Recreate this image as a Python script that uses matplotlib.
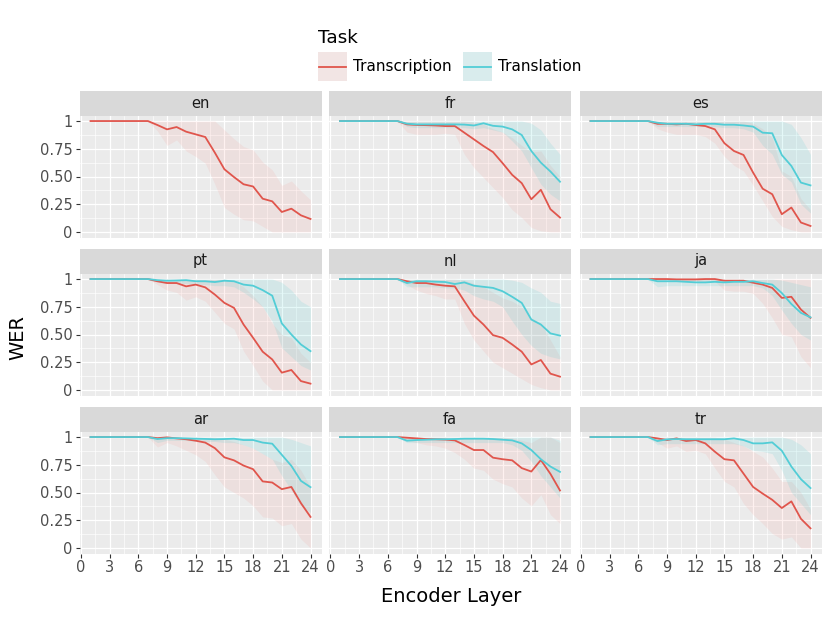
import matplotlib
matplotlib.use('Agg')
import matplotlib.pyplot as plt
from matplotlib.patches import Rectangle
from matplotlib.lines import Line2D
import numpy as np

plt.rcParams['font.family'] = ['DejaVu Sans']

layers = list(range(1, 25))
langs = ['en', 'fr', 'es', 'pt', 'nl', 'ja', 'ar', 'fa', 'tr']
tasks = ['Transcription', 'Translation']

# Transcription (mean, low, high)
en_tc = [1, 1, 1, 1, 1, 1, 1, 0.964, 0.925, 0.946, 0.904, 0.88, 0.856, 0.715, 0.565, 0.495, 0.43, 0.41, 0.30, 0.276, 0.18, 0.21, 0.15, 0.117]
en_tc_lo = [1, 1, 1, 1, 1, 1, 1, 0.91, 0.78, 0.83, 0.73, 0.68, 0.62, 0.43, 0.22, 0.16, 0.11, 0.10, 0.05, 0.0, 0.0, 0.0, 0.0, 0.0]
en_tc_hi = [1, 1, 1, 1, 1, 1, 1, 1, 1, 1, 1, 1, 1, 1.0, 0.92, 0.84, 0.77, 0.74, 0.63, 0.56, 0.42, 0.46, 0.37, 0.29]

fr_tc = [1, 1, 1, 1, 1, 1, 1, 0.97, 0.965, 0.963, 0.96, 0.955, 0.955, 0.895, 0.835, 0.775, 0.72, 0.62, 0.515, 0.44, 0.295, 0.38, 0.205, 0.13]
fr_tc_lo = [1, 1, 1, 1, 1, 1, 1, 0.9, 0.88, 0.88, 0.88, 0.89, 0.88, 0.7, 0.58, 0.49, 0.4, 0.31, 0.2, 0.13, 0.04, 0.01, 0.0, 0.0]
fr_tc_hi = [1, 1, 1, 1, 1, 1, 1, 1, 1, 1, 1, 1, 1, 1, 0.99, 0.97, 0.93, 0.9, 0.85, 0.78, 0.72, 0.73, 0.6, 0.5]

es_tc = [1, 1, 1, 1, 1, 1, 1, 0.975, 0.975, 0.97, 0.975, 0.964, 0.955, 0.925, 0.8, 0.73, 0.694, 0.535, 0.39, 0.34, 0.16, 0.22, 0.085, 0.054]
es_tc_lo = [1, 1, 1, 1, 1, 1, 1, 0.93, 0.9, 0.88, 0.88, 0.88, 0.86, 0.8, 0.68, 0.6, 0.55, 0.42, 0.28, 0.14, 0.05, 0.02, 0.0, 0.0]
es_tc_hi = [1, 1, 1, 1, 1, 1, 1, 1, 1, 1, 1, 1, 1, 1, 1, 1, 1, 0.98, 0.93, 0.85, 0.55, 0.5, 0.3, 0.2]

pt_tc = [1, 1, 1, 1, 1, 1, 1, 0.98, 0.964, 0.964, 0.934, 0.95, 0.925, 0.86, 0.785, 0.74, 0.59, 0.47, 0.345, 0.275, 0.156, 0.18, 0.08, 0.057]
pt_tc_lo = [1, 1, 1, 1, 1, 1, 1, 0.95, 0.9, 0.88, 0.81, 0.84, 0.8, 0.7, 0.6, 0.55, 0.35, 0.22, 0.08, 0.0, 0.0, 0.0, 0.0, 0.0]
pt_tc_hi = [1, 1, 1, 1, 1, 1, 1, 1, 1, 1, 1, 1, 1, 1, 1, 0.98, 0.93, 0.85, 0.75, 0.6, 0.5, 0.47, 0.33, 0.25]

nl_tc = [1, 1, 1, 1, 1, 1, 1, 0.98, 0.964, 0.964, 0.95, 0.94, 0.934, 0.8, 0.67, 0.59, 0.494, 0.47, 0.41, 0.345, 0.23, 0.27, 0.147, 0.12]
nl_tc_lo = [1, 1, 1, 1, 1, 1, 1, 0.95, 0.9, 0.87, 0.85, 0.82, 0.82, 0.6, 0.45, 0.35, 0.25, 0.2, 0.15, 0.1, 0.05, 0.02, 0.0, 0.0]
nl_tc_hi = [1, 1, 1, 1, 1, 1, 1, 1, 1, 1, 1, 1, 1, 0.99, 0.96, 0.93, 0.88, 0.83, 0.8, 0.75, 0.65, 0.6, 0.45, 0.3]

ja_tc = [1, 1, 1, 1, 1, 1, 1, 1.0, 1.0, 0.997, 0.997, 0.997, 1.0, 1.0, 0.985, 0.985, 0.985, 0.967, 0.95, 0.92, 0.83, 0.84, 0.725, 0.65]
ja_tc_lo = [1, 1, 1, 1, 1, 1, 1, 0.99, 0.98, 0.98, 0.98, 0.98, 0.98, 0.98, 0.9, 0.89, 0.89, 0.87, 0.78, 0.65, 0.5, 0.48, 0.3, 0.2]
ja_tc_hi = [1, 1, 1, 1, 1, 1, 1, 1, 1, 1, 1, 1, 1, 1, 1, 1, 1, 1, 1, 1, 1, 1, 1, 1]

ar_tc = [1, 1, 1, 1, 1, 1, 1, 0.99, 0.997, 0.988, 0.98, 0.967, 0.95, 0.9, 0.817, 0.79, 0.743, 0.71, 0.6, 0.59, 0.53, 0.55, 0.404, 0.28]
ar_tc_lo = [1, 1, 1, 1, 1, 1, 1, 0.91, 0.95, 0.92, 0.88, 0.84, 0.78, 0.66, 0.55, 0.5, 0.45, 0.38, 0.28, 0.27, 0.2, 0.22, 0.08, 0.0]
ar_tc_hi = [1, 1, 1, 1, 1, 1, 1, 1, 1, 1, 1, 1, 1, 1, 0.98, 0.96, 0.93, 0.9, 0.85, 0.8, 0.77, 0.8, 0.7, 0.55]

fa_tc = [1, 1, 1, 1, 1, 1, 1, 0.994, 0.988, 0.982, 0.98, 0.977, 0.97, 0.928, 0.883, 0.883, 0.814, 0.8, 0.79, 0.72, 0.689, 0.793, 0.668, 0.518]
fa_tc_lo = [1, 1, 1, 1, 1, 1, 1, 0.97, 0.95, 0.93, 0.92, 0.9, 0.86, 0.8, 0.72, 0.7, 0.62, 0.58, 0.55, 0.45, 0.38, 0.48, 0.3, 0.22]
fa_tc_hi = [1, 1, 1, 1, 1, 1, 1, 1, 1, 1, 1, 1, 1, 1, 1, 1, 1, 1, 0.99, 0.97, 0.95, 1.0, 1.0, 0.95]

tr_tc = [1, 1, 1, 1, 1, 1, 1, 0.988, 0.973, 0.988, 0.964, 0.973, 0.943, 0.868, 0.8, 0.79, 0.67, 0.55, 0.49, 0.434, 0.36, 0.42, 0.263, 0.177]
tr_tc_lo = [1, 1, 1, 1, 1, 1, 1, 0.95, 0.9, 0.92, 0.87, 0.88, 0.85, 0.72, 0.6, 0.55, 0.4, 0.3, 0.22, 0.13, 0.08, 0.1, 0.0, 0.0]
tr_tc_hi = [1, 1, 1, 1, 1, 1, 1, 1, 1, 1, 1, 1, 1, 1, 0.98, 0.95, 0.92, 0.87, 0.82, 0.72, 0.6, 0.6, 0.5, 0.35]

# Translation (mean, low, high); none for en
fr_tl = [1, 1, 1, 1, 1, 1, 1, 0.976, 0.97, 0.97, 0.97, 0.97, 0.97, 0.968, 0.96, 0.98, 0.957, 0.95, 0.925, 0.874, 0.73, 0.625, 0.545, 0.453]
fr_tl_lo = [1, 1, 1, 1, 1, 1, 1, 0.95, 0.94, 0.94, 0.94, 0.94, 0.94, 0.94, 0.93, 0.94, 0.92, 0.9, 0.82, 0.73, 0.58, 0.43, 0.34, 0.28]
fr_tl_hi = [1, 1, 1, 1, 1, 1, 1, 1, 1, 1, 1, 1, 1, 1, 1, 1, 1, 1, 1, 1, 0.98, 0.92, 0.8, 0.7]

es_tl = [1, 1, 1, 1, 1, 1, 1, 0.985, 0.975, 0.975, 0.975, 0.97, 0.975, 0.975, 0.967, 0.967, 0.96, 0.95, 0.895, 0.89, 0.694, 0.595, 0.445, 0.42]
es_tl_lo = [1, 1, 1, 1, 1, 1, 1, 0.95, 0.95, 0.95, 0.95, 0.95, 0.95, 0.95, 0.94, 0.94, 0.93, 0.9, 0.78, 0.7, 0.52, 0.45, 0.25, 0.17]
es_tl_hi = [1, 1, 1, 1, 1, 1, 1, 1, 1, 1, 1, 1, 1, 1, 1, 1, 1, 1, 1, 1, 1, 0.97, 0.85, 0.7]

pt_tl = [1, 1, 1, 1, 1, 1, 1, 0.99, 0.985, 0.987, 0.99, 0.98, 0.98, 0.973, 0.985, 0.98, 0.95, 0.94, 0.9, 0.85, 0.6, 0.5, 0.41, 0.35]
pt_tl_lo = [1, 1, 1, 1, 1, 1, 1, 0.97, 0.96, 0.96, 0.96, 0.95, 0.95, 0.94, 0.94, 0.93, 0.88, 0.82, 0.75, 0.62, 0.38, 0.3, 0.22, 0.18]
pt_tl_hi = [1, 1, 1, 1, 1, 1, 1, 1, 1, 1, 1, 1, 1, 1, 1, 1, 1, 1, 1, 1, 0.97, 0.9, 0.8, 0.75]

nl_tl = [1, 1, 1, 1, 1, 1, 1, 0.964, 0.98, 0.98, 0.976, 0.973, 0.955, 0.97, 0.94, 0.93, 0.92, 0.89, 0.84, 0.785, 0.635, 0.59, 0.51, 0.49]
nl_tl_lo = [1, 1, 1, 1, 1, 1, 1, 0.93, 0.93, 0.93, 0.93, 0.92, 0.92, 0.9, 0.85, 0.82, 0.8, 0.75, 0.62, 0.5, 0.4, 0.33, 0.3, 0.28]
nl_tl_hi = [1, 1, 1, 1, 1, 1, 1, 1, 1, 1, 1, 1, 1, 1, 1, 1, 1, 1, 0.99, 0.97, 0.92, 0.88, 0.8, 0.78]

ja_tl = [1, 1, 1, 1, 1, 1, 1, 0.98, 0.98, 0.98, 0.975, 0.97, 0.97, 0.975, 0.97, 0.975, 0.975, 0.98, 0.964, 0.95, 0.874, 0.775, 0.695, 0.655]
ja_tl_lo = [1, 1, 1, 1, 1, 1, 1, 0.93, 0.94, 0.94, 0.94, 0.94, 0.94, 0.94, 0.94, 0.94, 0.94, 0.94, 0.92, 0.85, 0.72, 0.6, 0.5, 0.45]
ja_tl_hi = [1, 1, 1, 1, 1, 1, 1, 1, 1, 1, 1, 1, 1, 1, 1, 1, 1, 1, 1, 1, 0.99, 0.97, 0.95, 0.93]

ar_tl = [1, 1, 1, 1, 1, 1, 1, 0.982, 0.99, 0.99, 0.988, 0.985, 0.983, 0.98, 0.982, 0.985, 0.973, 0.973, 0.95, 0.94, 0.84, 0.74, 0.605, 0.548]
ar_tl_lo = [1, 1, 1, 1, 1, 1, 1, 0.95, 0.97, 0.97, 0.97, 0.96, 0.96, 0.96, 0.95, 0.95, 0.93, 0.9, 0.85, 0.8, 0.65, 0.52, 0.38, 0.32]
ar_tl_hi = [1, 1, 1, 1, 1, 1, 1, 1, 1, 1, 1, 1, 1, 1, 1, 1, 1, 1, 1, 1, 1, 0.98, 0.95, 0.92]

fa_tl = [1, 1, 1, 1, 1, 1, 1, 0.967, 0.973, 0.976, 0.98, 0.98, 0.982, 0.985, 0.985, 0.985, 0.982, 0.976, 0.97, 0.943, 0.883, 0.8, 0.734, 0.686]
fa_tl_lo = [1, 1, 1, 1, 1, 1, 1, 0.95, 0.95, 0.95, 0.95, 0.95, 0.95, 0.95, 0.95, 0.95, 0.95, 0.95, 0.93, 0.88, 0.78, 0.65, 0.55, 0.45]
fa_tl_hi = [1, 1, 1, 1, 1, 1, 1, 1, 1, 1, 1, 1, 1, 1, 1, 1, 1, 1, 1, 1, 1, 1, 1, 0.97]

tr_tl = [1, 1, 1, 1, 1, 1, 1, 0.964, 0.979, 0.982, 0.98, 0.98, 0.98, 0.98, 0.98, 0.988, 0.973, 0.943, 0.943, 0.952, 0.877, 0.734, 0.62, 0.54]
tr_tl_lo = [1, 1, 1, 1, 1, 1, 1, 0.93, 0.94, 0.94, 0.94, 0.94, 0.94, 0.94, 0.94, 0.94, 0.92, 0.88, 0.87, 0.85, 0.7, 0.5, 0.4, 0.3]
tr_tl_hi = [1, 1, 1, 1, 1, 1, 1, 1, 1, 1, 1, 1, 1, 1, 1, 1, 1, 1, 1, 1, 1, 0.98, 0.93, 0.85]

series = {
    'en': [(en_tc, en_tc_lo, en_tc_hi), None],
    'fr': [(fr_tc, fr_tc_lo, fr_tc_hi), (fr_tl, fr_tl_lo, fr_tl_hi)],
    'es': [(es_tc, es_tc_lo, es_tc_hi), (es_tl, es_tl_lo, es_tl_hi)],
    'pt': [(pt_tc, pt_tc_lo, pt_tc_hi), (pt_tl, pt_tl_lo, pt_tl_hi)],
    'nl': [(nl_tc, nl_tc_lo, nl_tc_hi), (nl_tl, nl_tl_lo, nl_tl_hi)],
    'ja': [(ja_tc, ja_tc_lo, ja_tc_hi), (ja_tl, ja_tl_lo, ja_tl_hi)],
    'ar': [(ar_tc, ar_tc_lo, ar_tc_hi), (ar_tl, ar_tl_lo, ar_tl_hi)],
    'fa': [(fa_tc, fa_tc_lo, fa_tc_hi), (fa_tl, fa_tl_lo, fa_tl_hi)],
    'tr': [(tr_tc, tr_tc_lo, tr_tc_hi), (tr_tl, tr_tl_lo, tr_tl_hi)],
}

line_cols = ['#E0554C', '#52CDD6']
fill_cols = ['#F8766D', '#00BFC4']
fill_alpha = 0.1

W, H = 830, 623
fig = plt.figure(figsize=(8.3, 6.23), dpi=100)
fig.patch.set_facecolor('white')


def fx(px):
    return px / W


def fy(py):
    return 1 - py / H


lefts = [79.5, 329, 579.5]
tops = [115.5, 273.5, 431.5]
pw, ph, sh = 242, 122, 25

for i, lang in enumerate(langs):
    r, c = divmod(i, 3)
    ax = fig.add_axes([fx(lefts[c]), fy(tops[r] + ph), pw / W, ph / H])
    ax.set_facecolor('#EBEBEB')
    for k in range(2):
        s = series[lang][k]
        if s is None:
            continue
        ax.fill_between(layers, s[1], s[2], color=fill_cols[k], alpha=fill_alpha, lw=0, zorder=2)
    for k in range(2):
        s = series[lang][k]
        if s is None:
            continue
        ax.plot(layers, s[0], color=line_cols[k], lw=1.3, zorder=3)
    ax.set_xlim(-0.15, 25.15)
    ax.set_ylim(-0.05, 1.05)
    ax.set_xticks(np.arange(0, 25, 3))
    ax.set_xticks(np.arange(1.5, 25, 3), minor=True)
    ax.set_yticks([0, 0.25, 0.5, 0.75, 1])
    ax.set_yticks([0.125, 0.375, 0.625, 0.875], minor=True)
    ax.grid(which='major', color='white', lw=0.9, zorder=1)
    ax.grid(which='minor', color='white', lw=0.45, zorder=1)
    ax.set_axisbelow(True)
    for sp in ax.spines.values():
        sp.set_visible(False)
    ax.tick_params(which='major', length=3, width=0.8, color='#333333',
                   labelsize=10.5, labelcolor='#4D4D4D', pad=2)
    ax.tick_params(which='minor', length=0)
    if c == 0:
        ax.set_yticklabels(['0', '0.25', '0.50', '0.75', '1'])
    else:
        ax.tick_params(axis='y', which='major', length=0, labelleft=False)
    if r == 2:
        ax.set_xticklabels([str(v) for v in range(0, 25, 3)])
    else:
        ax.tick_params(axis='x', which='major', length=0, labelbottom=False)

    st = fig.add_axes([fx(lefts[c]), fy(tops[r]), pw / W, sh / H])
    st.set_facecolor('#D9D9D9')
    st.set_xticks([])
    st.set_yticks([])
    for sp in st.spines.values():
        sp.set_visible(False)
    st.text(0.5, 0.5, lang, ha='center', va='center', fontsize=10.5, color='#1A1A1A',
            transform=st.transAxes)

fig.text(fx(451), fy(596), 'Encoder Layer', ha='center', va='center', fontsize=14)
fig.text(fx(18), fy(338), 'WER', ha='center', va='center', rotation=90, fontsize=14)

# legend
fig.text(fx(318), fy(38), 'Task', ha='left', va='center', fontsize=13.3)
key_x = [318, 463]
for k in range(2):
    x0 = key_x[k]
    fig.patches.append(Rectangle((fx(x0), fy(81)), 28.5 / W, 28.5 / H, transform=fig.transFigure,
                                 facecolor='#F2F2F2', edgecolor='none'))
    fig.patches.append(Rectangle((fx(x0), fy(81)), 28.5 / W, 28.5 / H, transform=fig.transFigure,
                                 facecolor=fill_cols[k], alpha=fill_alpha, edgecolor='none'))
    fig.lines.append(Line2D([fx(x0 + 1), fx(x0 + 27.5)], [fy(66.5), fy(66.5)], transform=fig.transFigure,
                            color=line_cols[k], lw=1.3))
    fig.text(fx(x0 + 35), fy(66.5), tasks[k], ha='left', va='center', fontsize=11)

fig.savefig('out.png', dpi=100)
